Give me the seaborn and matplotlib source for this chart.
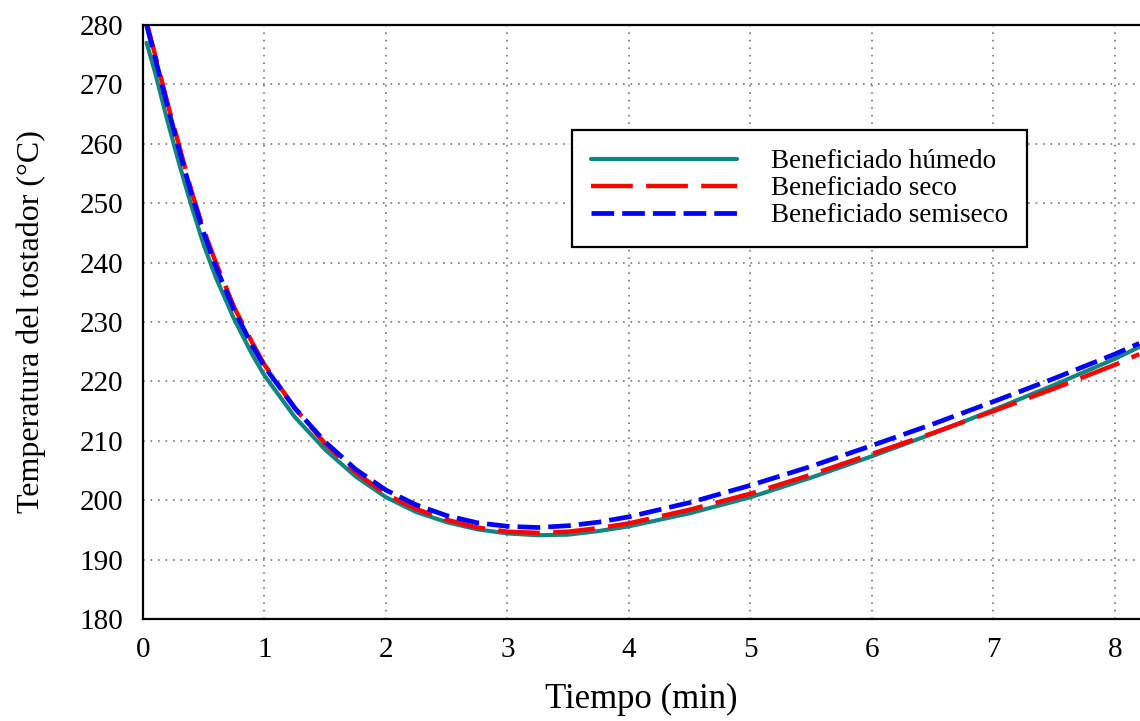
import numpy as np
import pandas as pd
import seaborn as sns
import matplotlib
matplotlib.use("Agg")
import matplotlib.pyplot as plt

tiempo = [0.03, 0.1, 0.2, 0.3, 0.4, 0.5, 0.6, 0.75, 0.9, 1.0, 1.25, 1.5, 1.75, 2.0,
          2.25, 2.5, 2.75, 3.0, 3.25, 3.5, 3.75, 4.0, 4.5, 5.0, 5.5, 6.0, 6.5,
          7.0, 7.5, 8.0, 8.2]
humedo = [277.0, 272.0, 264.0, 256.5, 249.5, 243.0, 237.5, 230.5, 224.5, 221.0,
          214.0, 208.5, 204.0, 200.5, 198.0, 196.3, 195.1, 194.4, 194.1, 194.2,
          194.8, 195.6, 197.8, 200.5, 203.8, 207.4, 211.2, 215.2, 219.4, 223.8, 225.8]
seco = [280.5, 275.0, 267.0, 259.5, 252.0, 245.5, 240.0, 232.5, 226.5, 222.8,
        215.5, 209.5, 204.7, 201.0, 198.5, 196.7, 195.4, 194.7, 194.5, 194.7,
        195.3, 196.1, 198.4, 201.1, 204.3, 207.8, 211.3, 215.0, 218.8, 222.8, 224.6]
semiseco = [280.0, 274.5, 266.5, 258.8, 251.5, 245.0, 239.3, 232.0, 226.0, 222.5,
            215.5, 209.8, 205.2, 201.7, 199.2, 197.4, 196.2, 195.6, 195.4, 195.7,
            196.3, 197.2, 199.6, 202.5, 205.7, 209.2, 212.8, 216.6, 220.5, 224.6, 226.4]

labels = ["Beneficiado húmedo", "Beneficiado seco", "Beneficiado semiseco"]
colors = ["#12867e", "#ff0000", "#0000ff"]
dashes = [None, (9.4, 3.0), (4.8, 1.7)]
widths = [3.0, 3.2, 3.4]

sns.set_style("white")
plt.rcParams['font.family'] = ['Liberation Serif', 'DejaVu Serif']
plt.rcParams['text.color'] = 'black'
plt.rcParams['axes.labelcolor'] = 'black'

fig = plt.figure(figsize=(11.4, 7.21), dpi=100)
ax = fig.add_axes([0.1254, 0.1415, 0.8746, 0.8238])

for ys, lab, c, d, w in zip([humedo, seco, semiseco], labels, colors, dashes, widths):
    sns.lineplot(x=tiempo, y=ys, ax=ax, color=c, linewidth=w, label=lab)
    line = ax.lines[-1]
    if d is not None:
        line.set_dashes(d)

ax.set_xlim(0, 8.206)
ax.set_ylim(180, 280)
ax.set_xticks(range(0, 9))
ax.set_yticks(range(180, 281, 10))
ax.tick_params(axis='both', direction='in', length=6, width=1.5, labelsize=21,
               colors='black')
ax.tick_params(axis='x', pad=13)
ax.tick_params(axis='y', pad=14)
ax.grid(True, linestyle=(0, (1, 3.5)), color='#777777', linewidth=1.2)
for s in ['left', 'bottom', 'top']:
    ax.spines[s].set_color('black')
    ax.spines[s].set_linewidth(1.6)
ax.spines['right'].set_visible(False)

ax.set_xlabel("Tiempo (min)", fontsize=25, labelpad=14)
ax.set_ylabel("Temperatura del tostador (°C)", fontsize=23, labelpad=24)

leg = ax.legend(loc='upper left', bbox_to_anchor=(0.430, 0.823), fontsize=19.5,
                frameon=True, fancybox=False, edgecolor='black', framealpha=1,
                handlelength=5.4, handletextpad=1.25, borderpad=0.7,
                labelspacing=0.08, borderaxespad=0)
leg.get_frame().set_linewidth(1.6)
for t in leg.get_texts():
    t.set_color('black')

fig.savefig("out.png", dpi=100)
